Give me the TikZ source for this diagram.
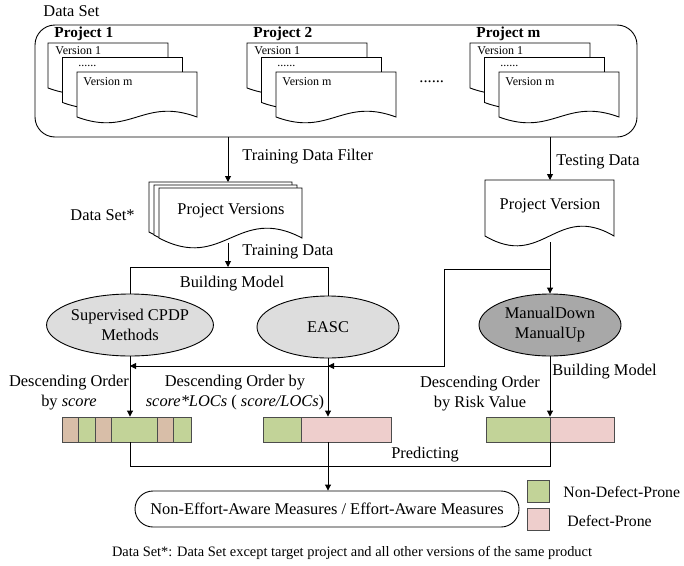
\documentclass[tikz,border=0pt]{standalone}
\usepackage{fontspec}
\setmainfont{Liberation Serif}
\usetikzlibrary{shapes.geometric,arrows.meta}
\definecolor{lgreen}{RGB}{194,211,152}
\definecolor{lpink}{RGB}{238,206,204}
\definecolor{ltan}{RGB}{216,190,168}
\definecolor{lgray}{RGB}{221,221,221}
\definecolor{dgray}{RGB}{168,168,168}

% document shape: left, top, width, height, wave
\newcommand{\vdoc}[5]{%
  \filldraw[fill=white] (#1,#2) -- ({#1+#3},#2) -- ({#1+#3},{#2+#4})
    .. controls ({#1+0.55*#3},{#2+#4-#5}) and ({#1+0.45*#3},{#2+#4+#5}) .. (#1,{#2+#4}) -- cycle;}

\tikzset{
  txt/.style={font=\fontsize{16.4}{20}\selectfont, inner sep=0pt},
  small/.style={font=\fontsize{12}{13}\selectfont, inner sep=0pt},
  proj/.style={font=\fontsize{15.3}{17}\selectfont\bfseries, inner sep=0pt},
  arr/.style={-{Triangle[length=6pt,width=6pt]}},
  model/.style={ellipse, draw, minimum width=142pt, minimum height=62pt, inner sep=0pt, align=center, txt},
  seg/.style={draw=black!70},
  legbox/.style={draw=black!70, minimum size=22pt, inner sep=0pt},
}

\begin{document}
\begin{tikzpicture}[x=1pt,y=-1pt,line width=0.9pt]
  \useasboundingbox (0,0) rectangle (684,565);

  \node[txt, anchor=west] (ds) at (43,11) {Data Set};
  \node[draw, rounded corners=20pt, minimum width=602pt, minimum height=112pt, inner sep=0pt] (dataset) at (336,81) {};

  \foreach \L/\k in {48/1,247/2,470/m}{
    \foreach \i in {0,1,2}{
      \vdoc{\L+14.5*\i}{43+14.5*\i}{120}{45}{20}
    }
    \node[proj, anchor=west] (p\k) at (\L+6,34) {Project \k};
    \node[small, anchor=west] (va\k) at (\L+7,51) {Version 1};
    \node[small, anchor=west] (vd\k) at (\L+30,66) {......};
    \node[small, anchor=west] (vb\k) at (\L+35,82) {Version m};
  }
  \node[txt, anchor=west] (dots) at (419,82) {......};

  % training and testing documents
  \foreach \i in {0,1,2}{
    \vdoc{149+5*\i}{182+3*\i}{143}{50}{34}
  }
  \node[txt] (pvs) at (231,211) {Project Versions};
  \node[txt, anchor=west] (dss) at (70,215) {Data Set*};
  \vdoc{485}{180}{129}{56}{34}
  \node[txt] (pv) at (550,206) {Project Version};

  \coordinate (pvstop) at (228,182);
  \coordinate (pvsbot) at (228,243);
  \coordinate (tvtop) at (550,180);
  \coordinate (tvbot) at (550,242);
  \coordinate (bm) at (228,267);
  \coordinate (split) at (550,269);
  \coordinate (turn) at (444,366);
  \coordinate (pl) at (130,466);

  \draw[arr] (dataset.south -| pvstop) -- (pvstop);
  \node[txt, anchor=west] (tdf) at (242,157) {Training Data Filter};
  \draw[arr] (dataset.south -| tvtop) -- (tvtop);
  \node[txt, anchor=west] (tsd) at (556,162) {Testing Data};
  \draw[arr] (pvsbot) -- (bm);
  \node[txt, anchor=west] (trd) at (242,252) {Training Data};

  % models
  \node[model, fill=lgray] (sup) at (130,325) {Supervised CPDP\\Methods};
  \node[model, fill=lgray] (easc) at (328,327) {EASC};
  \node[model, fill=dgray] (manual) at (550,325) {ManualDown\\ManualUp};

  \draw (sup.north) -- (sup.north |- bm) -- (easc.north |- bm) -- (easc.north);
  \node[txt] (bm1) at (232,284) {Building Model};
  \draw[arr] (tvbot) -- (manual.north);
  \draw[arr] (split) -| (turn) -- (sup.south |- turn);
  \draw[arr] (turn) -- (easc.south |- turn);

  % ranked bars
  \node[minimum width=129pt, minimum height=25pt, inner sep=0pt] (bar1) at (126.5,429.5) {};
  \node[minimum width=128pt, minimum height=25pt, inner sep=0pt] (bar2) at (327,429.5) {};
  \node[minimum width=128pt, minimum height=25pt, inner sep=0pt] (bar3) at (550,429.5) {};
  \foreach \a/\b/\c in {62/78/ltan, 78/95/lgreen, 95/111/ltan, 111/157/lgreen, 157/173/ltan, 173/191/lgreen,
                        263/301/lgreen, 301/391/lpink, 486/550/lgreen, 550/614/lpink}{
    \filldraw[seg, fill=\c] (\a,417) rectangle (\b,442);
  }

  \draw[arr] (sup.south) -- (sup.south |- bar1.north);
  \draw[arr] (easc.south) -- (easc.south |- bar2.north);
  \draw[arr] (manual.south) -- (manual.south |- bar3.north);
  \node[txt, anchor=west] (bm2) at (552,372) {Building Model};

  \node[txt, align=center] (ord1) at (69,393) {Descending Order\\by \textit{score}};
  \node[txt, align=center] (ord2) at (235,393) {Descending Order by\\\textit{score*LOCs} ( \textit{score/LOCs})};
  \node[txt, align=center] (ord3) at (480,394) {Descending Order\\by Risk Value};

  % evaluation
  \node[draw, rounded corners=18pt, minimum width=384pt, minimum height=36pt, txt] (meas) at (327,509)
    {Non-Effort-Aware Measures / Effort-Aware Measures};
  \draw (sup.south |- bar1.south) -- (pl) -- (pl -| manual.south) -- (manual.south |- bar3.south);
  \draw[arr] (easc.south |- bar2.south) -- (meas.north -| easc.south);
  \node[txt] (pr) at (425,455) {Predicting};

  \node[legbox, fill=lgreen] (lg1) at (538,491) {};
  \node[legbox, fill=lpink] (lg2) at (538,519) {};
  \node[txt, font=\fontsize{15.8}{18}\selectfont, anchor=west] (lt1) at (563,492) {Non-Defect-Prone};
  \node[txt, font=\fontsize{15.8}{18}\selectfont, anchor=west] (lt2) at (567,521) {Defect-Prone};

  \node[font=\fontsize{14.4}{16}\selectfont, inner sep=0pt] (cap) at (352,553)
    {Data Set*: Data Set except target project and all other versions of the same product};
\end{tikzpicture}
\end{document}
